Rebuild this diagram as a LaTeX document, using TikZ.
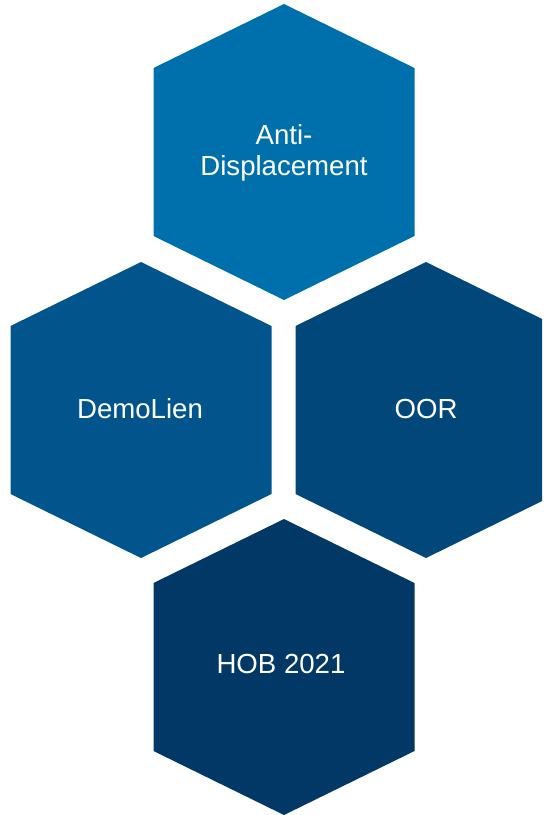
\documentclass[tikz,border=0pt]{standalone}
\usepackage{xcolor}
\usepackage{fontspec}
\setmainfont{Liberation Sans}
\usepackage{tikz}

\definecolor{hexA}{RGB}{0,112,173}
\definecolor{hexB}{RGB}{2,85,140}
\definecolor{hexC}{RGB}{1,71,122}
\definecolor{hexD}{RGB}{2,56,101}

\begin{document}
\begin{tikzpicture}[x=1pt,y=-1pt,
  hexlabel/.style={text=white,align=center,font=\fontsize{27.6}{31}\selectfont}]
\useasboundingbox (0,0) rectangle (546,815);

\fill [hexA,shift={(284,152)}] (0,-148) -- (130.5,-84) -- (130.5,84) -- (0,148) -- (-130.5,84) -- (-130.5,-84) -- cycle;
\fill [hexB,shift={(141,410)}] (0,-148) -- (130.5,-84) -- (130.5,84) -- (0,148) -- (-130.5,84) -- (-130.5,-84) -- cycle;
\begin{scope}
\clip (0,0) rectangle (542,815);
\fill [hexC,shift={(426,410)}] (0,-148) -- (130.5,-84) -- (130.5,84) -- (0,148) -- (-130.5,84) -- (-130.5,-84) -- cycle;
\end{scope}
\fill [hexD,shift={(284,667)}] (0,-148) -- (130.5,-84) -- (130.5,84) -- (0,148) -- (-130.5,84) -- (-130.5,-84) -- cycle;

\node at (284,153) [hexlabel] (anti) {Anti-\\Displacement};
\node at (140,409) [hexlabel] (demo) {DemoLien};
\node at (426,409) [hexlabel] (oor) {OOR};
\node at (281,664) [hexlabel] (hob) {HOB 2021};
\end{tikzpicture}
\end{document}
